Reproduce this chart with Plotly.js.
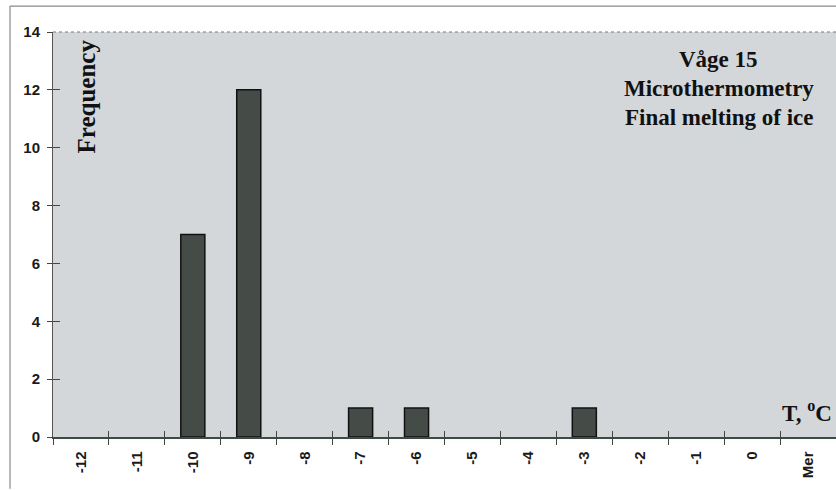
<!DOCTYPE html>
<html>
<head>
<meta charset="utf-8">
<script src="https://cdn.plot.ly/plotly-3.0.1.min.js"></script>
<style>
html,body{margin:0;padding:0;background:#ffffff;overflow:hidden;}
#chart{width:836px;height:490px;}
</style>
</head>
<body>
<div id="chart"></div>
<script>
// Data
var categories = ['-12','-11','-10','-9','-8','-7','-6','-5','-4','-3','-2','-1','0','Mer'];
var frequency  = [0, 0, 7, 12, 0, 1, 1, 0, 0, 1, 0, 0, 0, 0];
var yTicks = [0, 2, 4, 6, 8, 10, 12, 14];
var titleLines = ['Våge 15', 'Microthermometry', 'Final melting of ice'];

var barY = frequency.map(function(v){ return v === 0 ? null : v; });

var traces = [
  {
    type: 'bar',
    x: categories,
    y: barY,
    width: 0.43,
    marker: {color: '#454c47', line: {color: '#111111', width: 1.5}},
    hoverinfo: 'none'
  },
  {
    type: 'bar',
    x: categories,
    y: categories.map(function(){ return null; }),
    xaxis: 'x2',
    yaxis: 'y2',
    showlegend: false,
    hoverinfo: 'none'
  }
];

var serif = 'Liberation Serif, Times New Roman, serif';

var layout = {
  width: 836,
  height: 490,
  margin: {l: 53, r: 0, t: 32, b: 53},
  paper_bgcolor: 'rgba(0,0,0,0)',
  plot_bgcolor: '#d3d7da',
  showlegend: false,
  xaxis: {
    type: 'category',
    categoryorder: 'array',
    categoryarray: categories,
    range: [-0.5, 13.5],
    tickson: 'boundaries',
    ticks: 'outside',
    ticklen: 6,
    tickwidth: 1,
    tickcolor: '#444',
    showline: true,
    linecolor: '#3d4a42',
    linewidth: 1.5,
    showgrid: false,
    zeroline: false,
    tickangle: -90,
    tickfont: {family: 'Liberation Sans, Arial, sans-serif', size: 15, color: '#1a1a1a', weight: 'bold'},
    ticklabelstandoff: 7,
    fixedrange: true
  },
  xaxis2: {
    type: 'category',
    categoryorder: 'array',
    categoryarray: categories,
    overlaying: 'x',
    range: [-0.5, 13.5],
    tickson: 'boundaries',
    ticks: 'inside',
    ticklen: 6,
    tickwidth: 1,
    tickcolor: '#444',
    showticklabels: false,
    showline: false,
    showgrid: false,
    zeroline: false,
    side: 'bottom',
    fixedrange: true
  },
  yaxis: {
    range: [0, 14],
    tickvals: yTicks,
    ticktext: yTicks.map(String),
    ticks: 'outside',
    ticklen: 5,
    tickwidth: 1,
    tickcolor: '#444',
    showline: true,
    linecolor: '#555',
    linewidth: 1,
    showgrid: false,
    zeroline: false,
    tickfont: {family: 'Liberation Sans, Arial, sans-serif', size: 15, color: '#1a1a1a', weight: 'bold'},
    ticklabelstandoff: 4,
    fixedrange: true
  },
  yaxis2: {
    range: [0, 14],
    overlaying: 'y',
    tickvals: yTicks,
    ticks: 'inside',
    ticklen: 7,
    tickwidth: 1,
    tickcolor: '#444',
    showticklabels: false,
    showline: false,
    showgrid: false,
    zeroline: false,
    fixedrange: true
  },
  shapes: [
    {type: 'line', xref: 'paper', yref: 'paper', x0: 0, x1: 1, y0: 1, y1: 1,
     line: {color: '#777', width: 1, dash: 'dot'}},
    {type: 'line', xref: 'paper', yref: 'paper', x0: -0.0549, x1: -0.0549, y0: -0.128, y1: 1.064,
     line: {color: '#8a8a8a', width: 1.2}},
    {type: 'line', xref: 'paper', yref: 'paper', x0: -0.0549, x1: 1.01, y0: 1.064, y1: 1.064,
     line: {color: '#8a8a8a', width: 1.2}}
  ],
  annotations: [
    {xref: 'paper', yref: 'paper', x: 0.85, y: 0.933, xanchor: 'center', yanchor: 'middle',
     text: '<b>' + titleLines[0] + '</b>', showarrow: false,
     font: {family: serif, size: 23, color: '#111'}},
    {xref: 'paper', yref: 'paper', x: 0.85, y: 0.86, xanchor: 'center', yanchor: 'middle',
     text: '<b>' + titleLines[1] + '</b>', showarrow: false,
     font: {family: serif, size: 23, color: '#111'}},
    {xref: 'paper', yref: 'paper', x: 0.85, y: 0.788, xanchor: 'center', yanchor: 'middle',
     text: '<b>' + titleLines[2] + '</b>', showarrow: false,
     font: {family: serif, size: 23, color: '#111'}},
    {xref: 'paper', yref: 'paper', x: 0.043, y: 0.84, xanchor: 'center', yanchor: 'middle',
     text: '<b>Frequency</b>', textangle: -90, showarrow: false,
     font: {family: serif, size: 25, color: '#111'}},
    {xref: 'paper', yref: 'paper', x: 0.998, y: 0.062, xanchor: 'right', yanchor: 'middle',
     text: '<b>T, <sup>o</sup>C</b>', showarrow: false,
     font: {family: serif, size: 23, color: '#111'}}
  ]
};

Plotly.newPlot('chart', traces, layout, {staticPlot: true, displayModeBar: false});
</script>
</body>
</html>
